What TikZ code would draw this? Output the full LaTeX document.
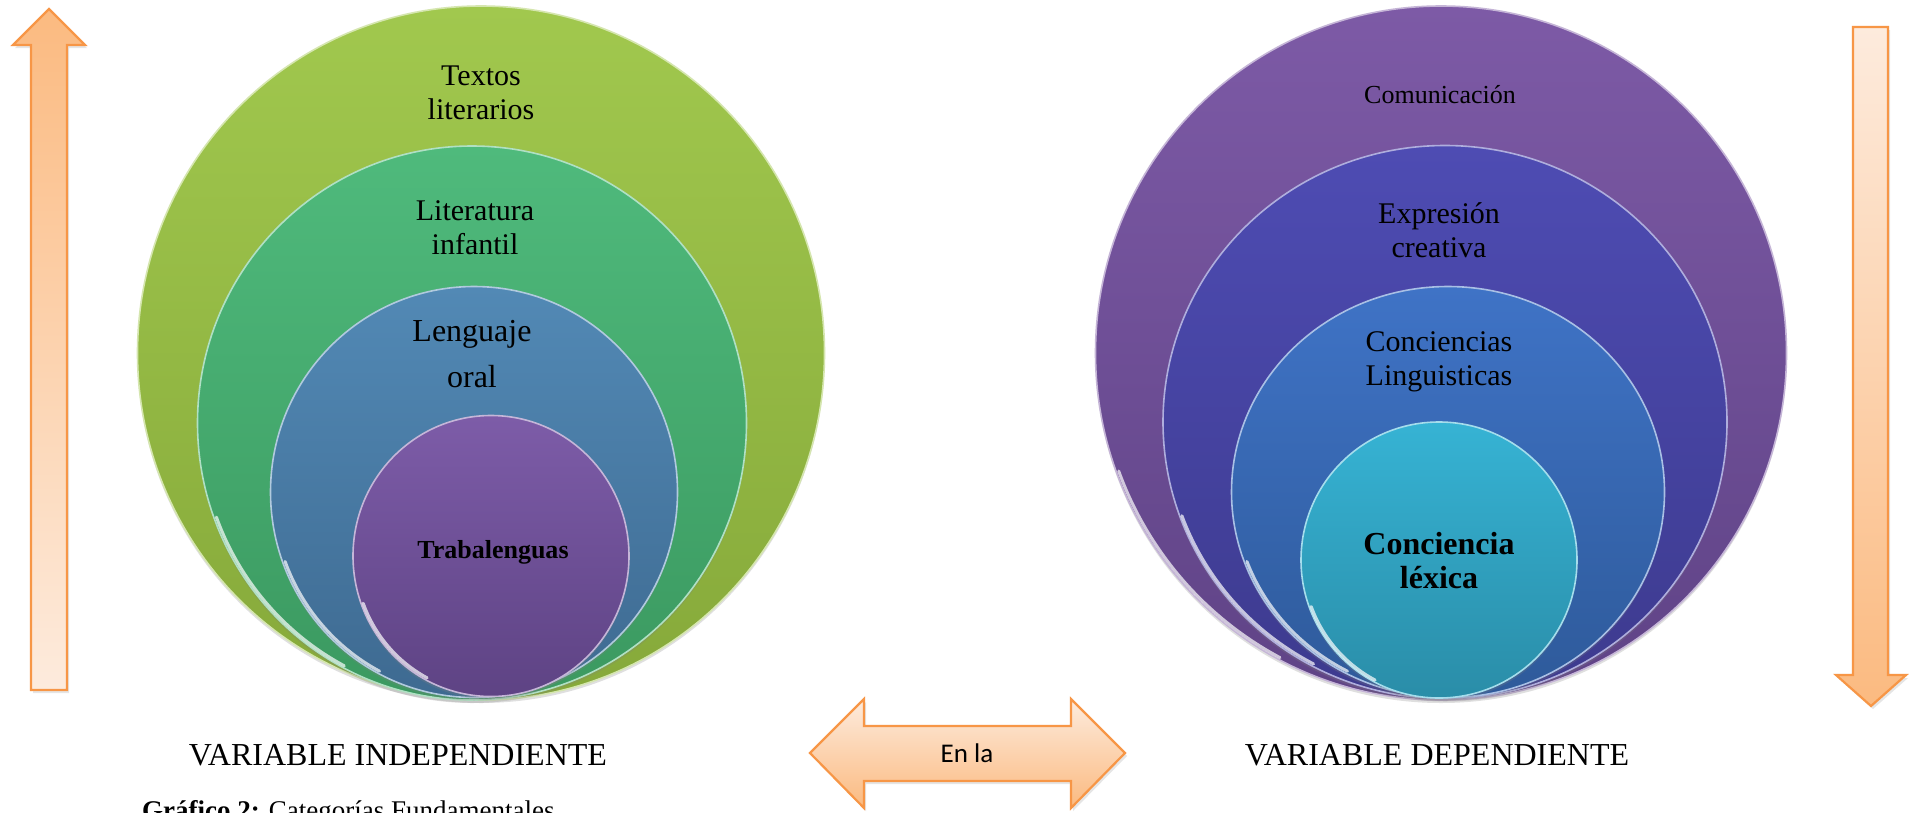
\documentclass[tikz,border=0pt]{standalone}
\usepackage{fontspec}
\setmainfont{Liberation Serif}
\newfontfamily\calibrifont{Carlito}
\usetikzlibrary{shapes.geometric,shadows}
\definecolor{arrowline}{HTML}{F79646}
\definecolor{arrowdark}{HTML}{FBBA80}
\definecolor{arrowlight}{HTML}{FDEBDD}
\definecolor{gAtop}{HTML}{A1C84E}\definecolor{gAbot}{HTML}{86A93A}
\definecolor{gBtop}{HTML}{4FBA7C}\definecolor{gBbot}{HTML}{3B9960}
\definecolor{gCtop}{HTML}{5289B5}\definecolor{gCbot}{HTML}{3E6A91}
\definecolor{gDtop}{HTML}{7D5CA8}\definecolor{gDbot}{HTML}{5E4384}
\definecolor{pAtop}{HTML}{7D5AA6}\definecolor{pAbot}{HTML}{5F4386}
\definecolor{pBtop}{HTML}{4E4CB3}\definecolor{pBbot}{HTML}{3D3A8E}
\definecolor{pCtop}{HTML}{3F73C6}\definecolor{pCbot}{HTML}{2E5A9A}
\definecolor{pDtop}{HTML}{36B3D4}\definecolor{pDbot}{HTML}{2A8DA8}
\tikzset{
  disc/.style n args={4}{ellipse, inner sep=0pt, minimum width=#1, minimum height=#2,
     top color=#3, bottom color=#4, draw=white!55!#3, line width=1.6pt,
     drop shadow={opacity=0.25, shadow xshift=0pt, shadow yshift=-3pt}},
  glossrim/.style={draw=white, opacity=0.7, line width=3pt, line cap=round},
  lbl/.style={align=center, font=\fontsize{30}{34}\selectfont, text=black, inner sep=0pt},
  blbl/.style={align=center, font=\fontsize{32}{34}\selectfont\bfseries, text=black, inner sep=0pt},
  arrowbody/.style={draw=arrowline, line width=2.2pt, line join=miter,
     drop shadow={opacity=0.2, shadow xshift=2pt, shadow yshift=-3pt}},
}
% gloss highlight along the lower-left rim of a disc: centre x, centre y, radii
\newcommand\rimarc[4]{%
  \draw[glossrim] ([shift={(160:#3-2 and #4-2)}]#1,#2) arc[start angle=160, end angle=118, x radius=#3-2, y radius=#4-2];}
\begin{document}
\begin{tikzpicture}[x=1pt,y=-1pt]
\useasboundingbox (0,0) rectangle (1909,812);
\fill[white] (0,0) rectangle (1909,812);

% left arrow (up)
\shade[arrowbody, top color=arrowdark, bottom color=arrowlight]
  (49,9) -- (85,45) -- (67,45) -- (67,690) -- (31,690) -- (31,45) -- (13,45) -- cycle;
% right arrow (down)
\shade[arrowbody, top color=arrowlight, bottom color=arrowdark]
  (1853,27) -- (1888,27) -- (1888,675) -- (1906,675) -- (1871,706) -- (1836,675) -- (1853,675) -- cycle;
% double arrow
\shade[arrowbody, top color=arrowlight, bottom color=arrowdark]
  (810,753) -- (864,699) -- (864,726) -- (1071,726) -- (1071,699) -- (1125,753)
  -- (1071,808) -- (1071,781) -- (864,781) -- (864,808) -- cycle;
\node (enla) at (967,753) {\calibrifont\fontsize{27}{30}\selectfont En la};

% left group
\node[disc={687pt}{694pt}{gAtop}{gAbot}] (L1) at (481,353) {};
\node[disc={549pt}{554pt}{gBtop}{gBbot}] (L2) at (472,423) {};
\rimarc{472}{423}{274}{277}
\node[disc={407pt}{411pt}{gCtop}{gCbot}] (L3) at (474,492) {};
\rimarc{474}{492}{203}{205}
\node[disc={276pt}{281pt}{gDtop}{gDbot}] (L4) at (491,556) {};
\rimarc{491}{556}{138}{140}

\node[lbl] (t1) at (481,93) {Textos\\literarios};
\node[lbl] (t2) at (475,228) {Literatura\\infantil};
\node[lbl, font=\fontsize{32}{46}\selectfont] (t3) at (472,354) {Lenguaje\\oral};
\node[blbl, font=\fontsize{26}{30}\selectfont\bfseries] (t4) at (493,552) {Trabalenguas};

% right group
\node[disc={691pt}{694pt}{pAtop}{pAbot}] (R1) at (1441,353) {};
\rimarc{1441}{353}{345}{347}
\node[disc={564pt}{553pt}{pBtop}{pBbot}] (R2) at (1445,422) {};
\rimarc{1445}{422}{282}{276}
\node[disc={433pt}{411pt}{pCtop}{pCbot}] (R3) at (1448,492) {};
\rimarc{1448}{492}{216}{205}
\node[disc={276pt}{276pt}{pDtop}{pDbot}] (R4) at (1439,560) {};
\rimarc{1439}{560}{138}{138}

\node[lbl, font=\fontsize{26}{30}\selectfont] (u1) at (1440,95) {Comunicación};
\node[lbl] (u2) at (1439,230) {Expresión\\creativa};
\node[lbl] (u3) at (1439,362) {Conciencias\\Linguisticas};
\node[blbl] (u4) at (1439,561) {Conciencia\\léxica};

% bottom labels
\node[lbl, font=\fontsize{32}{34}\selectfont] (vi) at (398,755) {VARIABLE INDEPENDIENTE};
\node[lbl, font=\fontsize{32}{34}\selectfont] (vd) at (1437,755) {VARIABLE DEPENDIENTE};
\node[anchor=base west, inner sep=0pt, font=\fontsize{27}{30}\selectfont] (cap) at (142,819)
  {\textbf{Gráfico 2:} Categorías Fundamentales};
\end{tikzpicture}
\end{document}
